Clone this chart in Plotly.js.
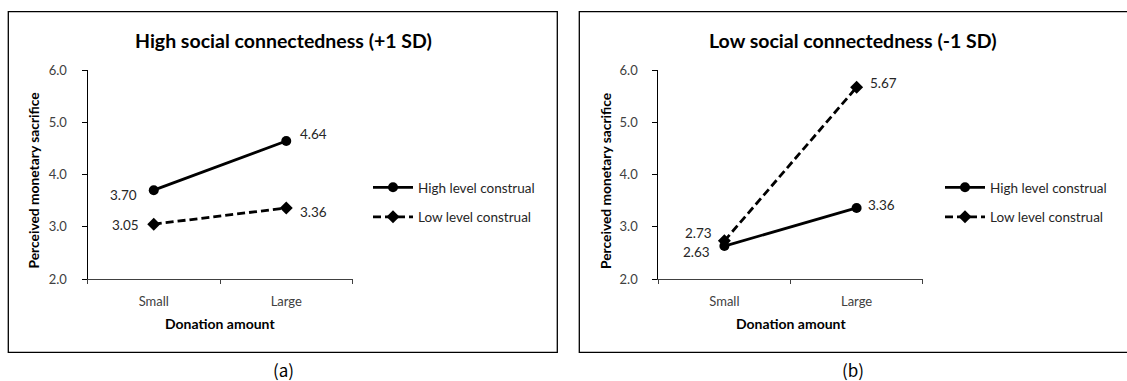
<!DOCTYPE html>
<html>
<head>
<meta charset="utf-8">
<script src="https://cdn.plot.ly/plotly-3.0.1.min.js"></script>
<style>html,body{margin:0;padding:0;background:#fff;}#chart{width:1127px;height:381px;}</style>
</head>
<body>
<div id="chart"></div>
<script>
// ---- data ----
const categories = ["Small", "Large"];
const seriesNames = ["High level construal", "Low level construal"];
const highConnHigh = [3.70, 4.64];   // panel (a) high level construal
const highConnLow  = [3.05, 3.36];   // panel (a) low level construal
const lowConnHigh  = [2.63, 3.36];   // panel (b) high level construal
const lowConnLow   = [2.73, 5.67];   // panel (b) low level construal
const panelTitles = ["High social connectedness (+1 SD)", "Low social connectedness (-1 SD)"];
const panelCaptions = ["(a)", "(b)"];
const xTitle = "Donation amount";
const yTitle = "Perceived monetary sacrifice";

// ---- style / placement ----
const W = 1127, H = 381;
const px = v => v / W;
const py = v => 1 - v / H;
const FONT = "Lato, 'Open Sans', sans-serif";
const TXT = "#262626";

// label offsets [xshift, yshift] per point
const labelShift = {
  a_high: [[-30, -5], [27, 7]],
  a_low:  [[-28, -1], [27, -4]],
  b_high: [[-28, -6], [25, 3]],
  b_low:  [[-26, 8], [27, 4]]
};

function trace(yv, name, dashed, xa, ya, leg, showleg) {
  return {
    x: categories, y: yv, name: name, type: "scatter", mode: "lines+markers",
    xaxis: xa, yaxis: ya, legend: leg, showlegend: showleg,
    legendgroup: leg + name,
    line: {color: "#000", width: 2.8, dash: dashed ? "8px,4px" : "solid"},
    marker: {color: "#000", size: 10, symbol: dashed ? "diamond" : "circle"},
    hoverinfo: "skip"
  };
}

const data = [
  trace(highConnHigh, seriesNames[0], false, "x", "y", "legend", true),
  trace(highConnLow, seriesNames[1], true, "x", "y", "legend", true),
  trace(lowConnHigh, seriesNames[0], false, "x2", "y2", "legend2", true),
  trace(lowConnLow, seriesNames[1], true, "x2", "y2", "legend2", true)
];

const annotations = [];
function addLabels(yv, shifts, xref, yref) {
  yv.forEach((v, i) => {
    annotations.push({
      x: categories[i], y: v, xref: xref, yref: yref, text: v.toFixed(2),
      showarrow: false, xanchor: "center", yanchor: "middle",
      xshift: shifts[i][0], yshift: shifts[i][1],
      font: {family: FONT, size: 13.5, color: TXT}
    });
  });
}
addLabels(highConnHigh, labelShift.a_high, "x", "y");
addLabels(highConnLow, labelShift.a_low, "x", "y");
addLabels(lowConnHigh, labelShift.b_high, "x2", "y2");
addLabels(lowConnLow, labelShift.b_low, "x2", "y2");

const panels = [
  {title: [283.5, 40], xt: [220, 323], yt: [32.5, 181], cap: [283, 369]},
  {title: [853, 40], xt: [791, 323], yt: [605, 181], cap: [853, 369]}
];
panels.forEach((p, i) => {
  annotations.push({xref: "paper", yref: "paper", x: px(p.title[0]), y: py(p.title[1]),
    text: "<b>" + panelTitles[i] + "</b>", showarrow: false, xanchor: "center", yanchor: "middle",
    font: {family: FONT, size: 19.5, color: "#000"}});
  annotations.push({xref: "paper", yref: "paper", x: px(p.xt[0]), y: py(p.xt[1]),
    text: "<b>" + xTitle + "</b>", showarrow: false, xanchor: "center", yanchor: "middle",
    font: {family: FONT, size: 14, color: "#000"}});
  annotations.push({xref: "paper", yref: "paper", x: px(p.yt[0]), y: py(p.yt[1]),
    text: "<b>" + yTitle + "</b>", showarrow: false, xanchor: "center", yanchor: "middle",
    textangle: -90, font: {family: FONT, size: 13.8, color: "#000"}});
  annotations.push({xref: "paper", yref: "paper", x: px(p.cap[0]), y: py(p.cap[1]),
    text: panelCaptions[i], showarrow: false, xanchor: "center", yanchor: "middle", borderpad: 0,
    font: {family: "'Noto Sans CJK KR', 'Noto Sans', sans-serif", size: 17, color: "#000"}});
});

function xaxis(x0, x1, anchor) {
  return {
    domain: [px(x0), px(x1)], anchor: anchor, type: "category", range: [-0.5, 1.5],
    showline: true, linecolor: "#404040", linewidth: 1, ticks: "outside", ticklen: 4,
    tickcolor: "#404040", tickson: "boundaries", showgrid: false, zeroline: false,
    tickfont: {family: FONT, size: 13, color: "#404040"}, ticklabelstandoff: 10, fixedrange: true
  };
}
function yaxis(anchor) {
  return {
    domain: [py(279), py(70)], anchor: anchor, range: [2, 6], dtick: 1, tick0: 2, tickformat: ".1f",
    showline: true, linecolor: "#000", linewidth: 1, ticks: "outside", ticklen: 5, tickcolor: "#000",
    showgrid: false, zeroline: false,
    tickfont: {family: FONT, size: 13, color: "#404040"}, ticklabelstandoff: 12, fixedrange: true
  };
}

function legend(xPix) {
  return {
    x: px(xPix), y: py(172), xanchor: "left", yanchor: "top",
    bgcolor: "rgba(0,0,0,0)", borderwidth: 0, traceorder: "grouped", tracegroupgap: 9,
    itemwidth: 40, font: {family: FONT, size: 13.5, color: TXT}
  };
}

const layout = {
  width: W, height: H, margin: {l: 0, r: 0, t: 0, b: 0},
  paper_bgcolor: "#fff", plot_bgcolor: "rgba(0,0,0,0)",
  xaxis: xaxis(87.5, 352.5, "y"), yaxis: yaxis("x"),
  xaxis2: xaxis(658.3, 922.7, "y2"), yaxis2: yaxis("x2"),
  legend: legend(368), legend2: legend(940),
  annotations: annotations,
  shapes: [
    {type: "rect", xref: "paper", yref: "paper", x0: px(8.3), x1: px(557.3), y0: py(352.3), y1: py(11.7),
     line: {color: "#000", width: 1.3}},
    {type: "rect", xref: "paper", yref: "paper", x0: px(579.3), x1: px(1130), y0: py(352.3), y1: py(11.7),
     line: {color: "#000", width: 1.3}}
  ],
  showlegend: true
};

Plotly.newPlot("chart", data, layout, {staticPlot: true, displayModeBar: false});
</script>
</body>
</html>
